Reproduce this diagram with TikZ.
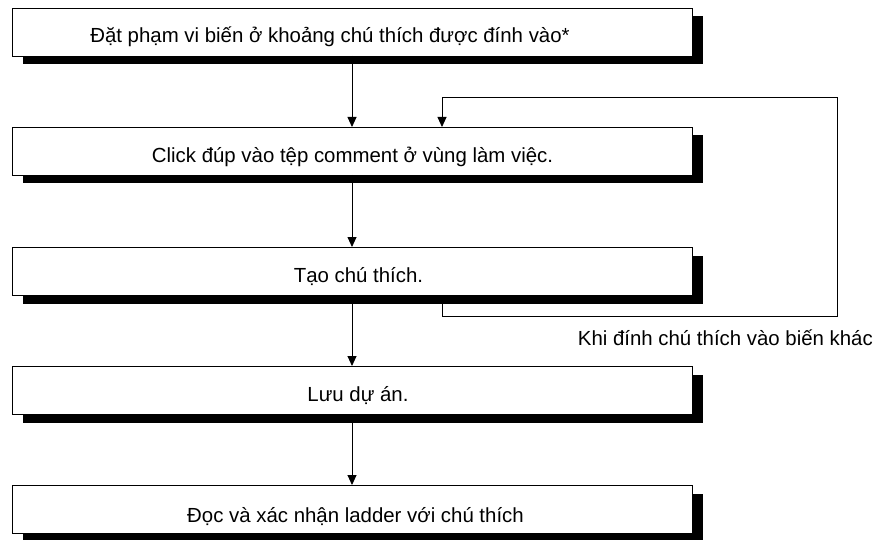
\documentclass[tikz,border=0pt]{standalone}
\usepackage{fontspec}
\setmainfont{Liberation Sans}
\usetikzlibrary{arrows.meta,shadows}
\begin{document}
\begin{tikzpicture}[x=1pt,y=-1pt,
  stepbox/.style={draw=black,line width=0.9pt,fill=white,minimum width=680pt,minimum height=48pt,
    inner sep=0pt,outer sep=0pt,
    general shadow={fill=black,shadow xshift=11pt,shadow yshift=-8.5pt}},
  txt/.style={anchor=base,inner sep=0pt,font=\fontsize{20.4}{24}\selectfont},
  arr/.style={line width=0.9pt,-{Triangle[length=10pt,width=9pt]}}]
\useasboundingbox (0,0) rectangle (883,540);
\node[stepbox] (b1) at (352,32) {};
\node[stepbox] (b2) at (352,151) {};
\node[stepbox] (b3) at (352,271) {};
\node[stepbox] (b4) at (352,390) {};
\node[stepbox] (b5) at (352,509) {};
\node[txt] (t1) at (330,43) {Đặt phạm vi biến ở khoảng chú thích được đính vào*};
\node[txt] (t2) at (352.5,162.5) {Click đúp vào tệp comment ở vùng làm việc.};
\node[txt] (t3) at (358.5,282.5) {Tạo chú thích.};
\node[txt] (t4) at (358,401.5) {Lưu dự án.};
\node[txt] (t5) at (355.5,522) {Đọc và xác nhận ladder với chú thích};
\node[txt,anchor=base east] (lab) at (873,345.5) {Khi đính chú thích vào biến khác};
\draw[arr] (b1) -- (b2);
\draw[arr] (b2) -- (b3);
\draw[arr] (b3) -- (b4);
\draw[arr] (b4) -- (b5);
\coordinate (c2) at (837,316);
\coordinate (c4) at (442,97);
\draw[arr] (b3.south -| c4) |- (c2) |- (c4) -- (b2.north -| c4);
\end{tikzpicture}
\end{document}
